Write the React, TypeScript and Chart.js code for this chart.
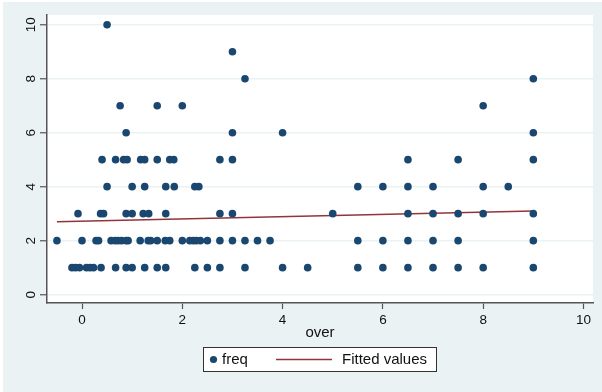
import React, { useEffect, useRef } from "react";
import { Chart, registerables } from "chart.js";

Chart.register(...registerables);

// ---- data ----
const freq1Over = [-0.2, -0.13, -0.05, 0.09, 0.16, 0.23, 0.38, 0.67, 0.88, 1.0, 1.25, 1.5, 1.67, 2.25, 2.5, 2.75, 3.25, 4.0, 4.5, 5.5, 6, 6.5, 7, 7.5, 8, 9];
const freq2Over = [-0.5, 0, 0.28, 0.33, 0.58, 0.66, 0.72, 0.79, 0.88, 0.92, 1.16, 1.32, 1.37, 1.5, 1.66, 1.75, 2.0, 2.15, 2.22, 2.28, 2.36, 2.5, 2.75, 3.0, 3.25, 3.5, 3.75, 5.5, 6, 6.5, 7, 7.5, 9];
const freq3Over = [-0.08, 0.37, 0.43, 0.88, 1.0, 1.22, 1.33, 1.67, 2.75, 3.0, 5.0, 6.5, 7.0, 7.5, 8.0, 9.0];
const freq4Over = [0.5, 1.0, 1.25, 1.67, 1.84, 2.25, 2.33, 5.5, 6, 6.5, 7, 8, 8.5];
const freq5Over = [0.4, 0.67, 0.83, 0.9, 1.17, 1.25, 1.5, 1.75, 1.83, 2.75, 3.0, 6.5, 7.5, 9.0];
const freq6Over = [0.88, 3.0, 4.0, 9.0];
const freq7Over = [0.76, 1.5, 2.0, 8.0];
const freq8Over = [3.25, 9.0];
const freq9Over = [3.0];
const freq10Over = [0.5];

const fittedX = [-0.5, 9];
const fittedY = [2.7, 3.1];

const xTickValues = [0, 2, 4, 6, 8, 10];
const yTickValues = [0, 2, 4, 6, 8, 10];

const seriesLabels = ["freq", "Fitted values"];
const xTitle = "over";

const NAVY = "#1a476f";
const MAROON = "#90353b";
const BG = "#eaf2f3";
const FONT = "'Liberation Sans', Arial, Helvetica, sans-serif";

const byFreq: [number, number[]][] = [
  [1, freq1Over],
  [2, freq2Over],
  [3, freq3Over],
  [4, freq4Over],
  [5, freq5Over],
  [6, freq6Over],
  [7, freq7Over],
  [8, freq8Over],
  [9, freq9Over],
  [10, freq10Over],
];

const scatterPoints = byFreq.flatMap(([f, xs]) => xs.map((x) => ({ x, y: f })));
const fittedPoints = fittedX.map((x, i) => ({ x, y: fittedY[i] }));

const decorPlugin = {
  id: "stataDecor",
  beforeDraw(chart: any) {
    const { ctx, chartArea } = chart;
    ctx.save();
    ctx.fillStyle = "#ffffff";
    ctx.fillRect(0, 0, chart.width, chart.height);
    ctx.fillStyle = BG;
    ctx.fillRect(3, 2, chart.width - 3, chart.height - 2);
    ctx.fillStyle = "#ffffff";
    ctx.fillRect(chartArea.left, chartArea.top, chartArea.right - chartArea.left, chartArea.bottom - chartArea.top);
    ctx.restore();
  },
  afterDraw(chart: any) {
    const { ctx, chartArea } = chart;
    const yScale = chart.scales.y;
    ctx.save();
    // rotated y tick labels
    ctx.fillStyle = "#111";
    ctx.font = `13.5px ${FONT}`;
    ctx.textAlign = "center";
    ctx.textBaseline = "middle";
    yTickValues.forEach((v) => {
      const py = yScale.getPixelForValue(v);
      ctx.save();
      ctx.translate(31, py);
      ctx.rotate(-Math.PI / 2);
      ctx.fillText(String(v), 0, 0);
      ctx.restore();
    });
    // x axis title
    ctx.font = `15px ${FONT}`;
    ctx.fillText(xTitle, (chartArea.left + chartArea.right) / 2, 333);
    // legend box
    const lx = 203.5, ly = 347.5, lw = 233, lh = 24;
    ctx.fillStyle = "#ffffff";
    ctx.fillRect(lx, ly, lw, lh);
    ctx.strokeStyle = "#333";
    ctx.lineWidth = 1;
    ctx.strokeRect(lx, ly, lw, lh);
    const cy = ly + lh / 2;
    ctx.fillStyle = NAVY;
    ctx.beginPath();
    ctx.arc(213.5, cy, 3.6, 0, Math.PI * 2);
    ctx.fill();
    ctx.fillStyle = "#111";
    ctx.textAlign = "left";
    ctx.fillText(seriesLabels[0], 222, cy + 0.5);
    ctx.strokeStyle = MAROON;
    ctx.lineWidth = 1.5;
    ctx.beginPath();
    ctx.moveTo(276, cy);
    ctx.lineTo(332, cy);
    ctx.stroke();
    ctx.fillText(seriesLabels[1], 342, cy + 0.5);
    ctx.restore();
  },
};

export default function App() {
  const canvasRef = useRef<HTMLCanvasElement | null>(null);

  useEffect(() => {
    const canvas = canvasRef.current;
    if (!canvas) return;
    const chart = new Chart(canvas, {
      type: "scatter",
      data: {
        datasets: [
          {
            type: "scatter",
            label: seriesLabels[0],
            data: scatterPoints,
            backgroundColor: NAVY,
            borderColor: NAVY,
            borderWidth: 0,
            pointRadius: 3.8,
            pointHoverRadius: 3.8,
          },
          {
            type: "line",
            label: seriesLabels[1],
            data: fittedPoints,
            borderColor: MAROON,
            borderWidth: 1.5,
            pointRadius: 0,
            fill: false,
            tension: 0,
          } as any,
        ],
      },
      options: {
        animation: false,
        responsive: false,
        devicePixelRatio: 1,
        layout: { padding: { top: 15, right: 9, left: 0, bottom: 0 } },
        plugins: {
          legend: { display: false },
          tooltip: { enabled: false },
          title: { display: false },
        },
        scales: {
          x: {
            type: "linear",
            min: -0.698,
            max: 10.19,
            afterBuildTicks: (s: any) => {
              s.ticks = xTickValues.map((v) => ({ value: v }));
            },
            afterFit: (s: any) => {
              s.height = 89;
            },
            grid: {
              drawOnChartArea: false,
              drawTicks: true,
              tickLength: 6,
              tickColor: "#555",
              tickWidth: 1.2,
            },
            border: { display: true, color: "#555", width: 1.5 },
            ticks: {
              color: "#111",
              font: { family: FONT, size: 13.5 },
              padding: 3,
              maxRotation: 0,
              minRotation: 0,
              autoSkip: false,
              callback: (v: any) => String(v),
            },
          },
          y: {
            type: "linear",
            min: -0.31,
            max: 10.36,
            afterBuildTicks: (s: any) => {
              s.ticks = yTickValues.map((v) => ({ value: v }));
            },
            afterFit: (s: any) => {
              s.width = 47;
            },
            grid: {
              drawOnChartArea: true,
              color: BG,
              lineWidth: 1.5,
              drawTicks: true,
              tickLength: 7,
              tickColor: "#555",
              tickWidth: 1.2,
            },
            border: { display: true, color: "#555", width: 1.5 },
            ticks: { display: false },
          },
        },
      } as any,
      plugins: [decorPlugin],
    });
    return () => chart.destroy();
  }, []);

  return (
    <div style={{ position: "fixed", left: 0, top: 0, width: 602, height: 392 }}>
      <canvas ref={canvasRef} width={602} height={392} style={{ width: 602, height: 392, display: "block" }} />
    </div>
  );
}
